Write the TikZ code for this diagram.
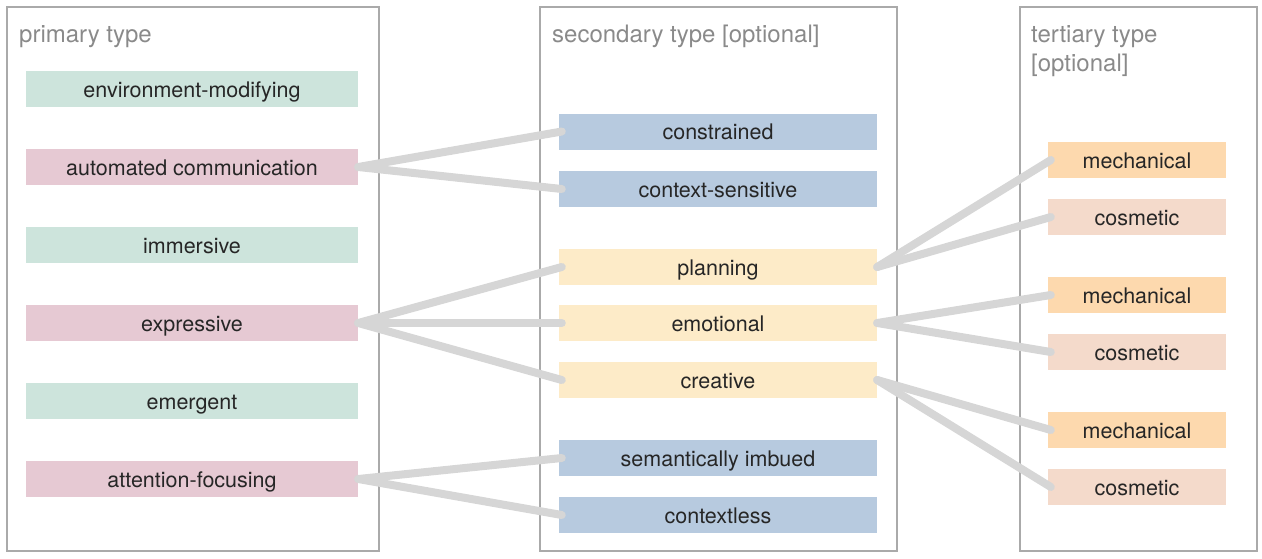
\documentclass[tikz,border=0pt]{standalone}
\usepackage{fontspec}
\setmainfont{TeX Gyre Heros}
\usepackage{tikz}

\definecolor{frame}{HTML}{AAAAAA}
\definecolor{linkgray}{HTML}{D6D6D6}
\definecolor{headgray}{HTML}{8A8A8A}
\definecolor{primgreen}{HTML}{CDE4DC}
\definecolor{primpink}{HTML}{E6C9D3}
\definecolor{secblue}{HTML}{B7CADF}
\definecolor{secyellow}{HTML}{FDEBC8}
\definecolor{termech}{HTML}{FDD9AE}
\definecolor{tercos}{HTML}{F4DACB}

\begin{document}
\begin{tikzpicture}[x=1pt,y=-1pt,
  panel/.style={draw=frame, line width=2pt},
  head/.style={anchor=north west, inner sep=0pt, text=headgray, font=\fontsize{24}{29}\selectfont, align=left},
  box/.style={rectangle, inner sep=0pt, minimum height=36pt, text height=16pt, text depth=0pt, text=black!85, font=\fontsize{21.5}{25}\selectfont},
  prim/.style={box, minimum width=332pt},
  sec/.style={box, minimum width=318pt},
  ter/.style={box, minimum width=178pt},
  link/.style={draw=linkgray, line width=8pt, line cap=round}]
\useasboundingbox (0,0) rectangle (1262,558);

% the three columns
\draw[panel] (7,7) rectangle (379,551);
\draw[panel] (540,7) rectangle (897,551);
\draw[panel] (1020,7) rectangle (1257,551);
\node[head] (h1) at (19,25) {primary type};
\node[head] (h2) at (552,25) {secondary type [optional]};
\node[head] (h3) at (1031,25) {tertiary type\\{}[optional]};

% primary type
\node[prim, fill=primgreen] (envmod) at (192,89) {environment-modifying};
\node[prim, fill=primpink] (autocom) at (192,167) {automated communication};
\node[prim, fill=primgreen] (immersive) at (192,245) {immersive};
\node[prim, fill=primpink] (expressive) at (192,323) {expressive};
\node[prim, fill=primgreen] (emergent) at (192,401) {emergent};
\node[prim, fill=primpink] (attention) at (192,479) {attention-focusing};

% secondary type
\node[sec, fill=secblue] (constrained) at (718,131.5) {constrained};
\node[sec, fill=secblue] (ctxsens) at (718,189) {context-sensitive};
\node[sec, fill=secyellow] (planning) at (718,267) {planning};
\node[sec, fill=secyellow] (emotional) at (718,323) {emotional};
\node[sec, fill=secyellow] (creative) at (718,380) {creative};
\node[sec, fill=secblue] (semantic) at (718,458) {semantically imbued};
\node[sec, fill=secblue] (ctxless) at (718,515) {contextless};

% tertiary type
\node[ter, fill=termech] (mechA) at (1137,160) {mechanical};
\node[ter, fill=tercos] (cosA) at (1137,217) {cosmetic};
\node[ter, fill=termech] (mechB) at (1137,295) {mechanical};
\node[ter, fill=tercos] (cosB) at (1137,352) {cosmetic};
\node[ter, fill=termech] (mechC) at (1137,430) {mechanical};
\node[ter, fill=tercos] (cosC) at (1137,487) {cosmetic};

% links
\draw[link] (autocom.east) -- ([xshift=3pt]constrained.west);
\draw[link] (autocom.east) -- ([xshift=3pt]ctxsens.west);
\draw[link] (expressive.east) -- ([xshift=3pt]planning.west);
\draw[link] (expressive.east) -- ([xshift=3pt]emotional.west);
\draw[link] (expressive.east) -- ([xshift=3pt]creative.west);
\draw[link] (attention.east) -- ([xshift=3pt]semantic.west);
\draw[link] (attention.east) -- ([xshift=3pt]ctxless.west);
\draw[link] (planning.east) -- ([xshift=3pt]mechA.west);
\draw[link] (planning.east) -- ([xshift=3pt]cosA.west);
\draw[link] (emotional.east) -- ([xshift=3pt]mechB.west);
\draw[link] (emotional.east) -- ([xshift=3pt]cosB.west);
\draw[link] (creative.east) -- ([xshift=3pt]mechC.west);
\draw[link] (creative.east) -- ([xshift=3pt]cosC.west);

\end{tikzpicture}
\end{document}
